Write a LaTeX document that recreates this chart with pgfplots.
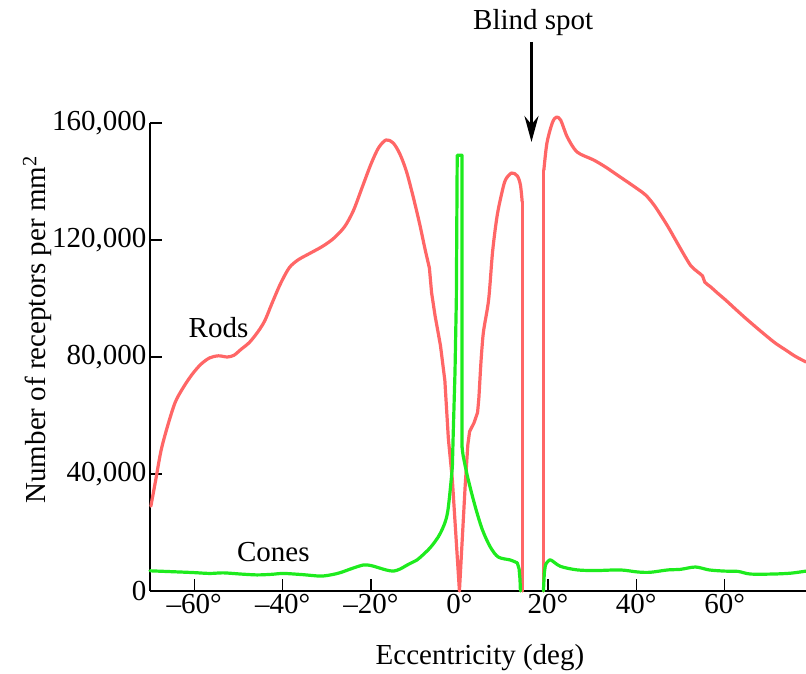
\documentclass[border=0pt]{standalone}
\usepackage{pgfplots}
\pgfplotsset{compat=1.18}
\usepackage{fontspec}
\setmainfont{Liberation Serif}
\usetikzlibrary{arrows.meta}
\definecolor{rodred}{RGB}{255,102,102}
\definecolor{conegreen}{RGB}{30,235,30}

\begin{document}
\begin{tikzpicture}[font=\fontsize{29}{34}\selectfont]
\begin{axis}[
  scale only axis, width=656pt, height=468pt,
  xmin=-70, xmax=78.4, ymin=0, ymax=160000,
  clip=false,
  axis lines=left, axis line style={-, line width=1.4pt},
  tick align=inside, major tick length=12pt,
  tick style={line width=1.4pt, black},
  xtick={-60,-40,-20,0,20,40,60},
  xticklabels={–60°,–40°,–20°,0°,20°,40°,60°},
  ytick={0,40000,80000,120000,160000},
  yticklabels={0,{40,000},{80,000},{120,000},{160,000}},
  scaled y ticks=false,
  xlabel={Eccentricity (deg)},
  ylabel={Number of receptors per mm\textsuperscript{2}},
  xlabel style={at={(axis description cs:0.503,-0.143)}, anchor=center},
  ylabel style={at={(axis description cs:-0.172,0.558)}, anchor=center},
  every axis plot/.append style={line width=3.2pt, line join=round, line cap=round},
]
% Rods
\addplot[rodred, smooth, tension=0.5] coordinates {
 (-69.8,29000)(-68.7,38000)(-67.5,48000)(-66,56500)(-64.3,64500)(-62.5,69500)
 (-60.5,74000)(-58.5,77500)(-56.5,79700)(-54.5,80400)(-52.5,80000)(-51,80600)
 (-49.5,82500)(-47.5,85000)(-45.5,88800)(-44,92500)(-42.5,98000)(-40.5,105000)
 (-38.5,110500)(-36.5,113200)(-34,115300)(-31,117800)(-28.5,120500)(-26,124500)
 (-24,130000)(-22,138000)(-20,146000)(-18.3,151500)(-16.6,154200)(-15,153200)
 (-13.5,149500)(-12,143500)(-10.5,135000)(-9,125500)(-7.8,117000)(-6.8,110500)};
\addplot[rodred] coordinates {
 (-6.8,110500)(-6.3,102000)(-5.5,94000)(-4.3,84000)(-3.3,72000)(-2.9,62000)
 (-2.5,52000)(-1.6,38000)(0,0)(1.3,36000)(1.9,50000)(2.3,54500)(3.3,57500)
 (4.1,61000)(4.4,66000)(4.8,76600)};
\addplot[rodred, smooth, tension=0.5] coordinates {
 (4.8,76600)(5.4,88200)(6.6,99500)(7.5,116000)(8.5,128000)(9.5,135500)
 (10.4,140500)(11.8,142900)(13.1,141900)(13.8,138800)(14.2,133000)};
\addplot[rodred] coordinates {(14.2,133000)(14.2,0)};
\addplot[rodred] coordinates {(19.1,0)(19.1,143900)};
\addplot[rodred, smooth, tension=0.5] coordinates {
 (19.1,143900)(19.8,153200)(21.0,160000)(21.9,162000)(22.9,161000)(24.4,155200)
 (26.6,150100)(30.3,147400)(33,145000)(36.4,141500)(39.5,138300)(42.1,135400)
 (44,132000)(45.5,128600)(47.2,124500)(48.9,120000)(50.6,115500)(52.3,111300)
 (53.8,109200)(55.0,107700)(55.5,105600)(56.8,104000)(58.5,101700)(60.2,99500)
 (62.5,96300)(64.7,93300)(67,90300)(69.2,87500)(71.5,84700)(73.8,82400)
 (76,80200)(78.4,78300)};
% Cones
\addplot[conegreen, smooth, tension=0.5] coordinates {
 (-70,6900)(-65,6600)(-60.2,6300)(-56.5,6000)(-53.4,6200)(-49.5,5800)(-45.8,5500)
 (-42.5,5700)(-39.8,6000)(-35.5,5600)(-31.4,5100)(-28.8,5600)(-26.9,6300)
 (-24.3,7700)(-21.7,8900)(-20,8700)(-18.6,8100)(-16.6,7200)(-14.9,6800)
 (-13.3,7600)(-11.8,8900)(-9.6,10600)(-8.8,11600)(-6.5,15000)(-4.3,19800)
 (-2.7,26700)(-1.6,42400)};
\addplot[conegreen] coordinates {
 (-1.6,42400)(-1.4,54000)(-1.0,75000)(-0.7,99500)(-0.5,149000)(0.6,149000)(0.6,49200)};
\addplot[conegreen, smooth, tension=0.5] coordinates {
 (0.6,49200)(0.9,45800)(2.0,38000)(3.6,28700)(5.2,20900)(7.0,15000)(8.8,11600)
 (11.5,10600)(13.1,9600)};
\addplot[conegreen] coordinates {(13.1,9600)(13.5,7500)(13.7,4000)(13.8,0)};
\addplot[conegreen] coordinates {(19.0,0)(19.2,6000)};
\addplot[conegreen, smooth, tension=0.5] coordinates {
 (19.2,6000)(19.5,9000)(20.2,10400)(20.8,10500)(22.9,8400)(26.7,7200)(31,7000)
 (36.4,7200)(40.3,6500)(43.2,6400)(47.1,7200)(50,7400)(53.4,8200)(56.5,7200)
 (60,6800)(63,6700)(65.8,5800)(71,5800)(75,6100)(78.4,6800)};

\node at (axis cs:-54.5,89900) {Rods};
\node at (axis cs:-42.1,13300) {Cones};
\node at (axis cs:16.7,194500) {Blind spot};
\draw[line width=3pt, -{Stealth[length=26pt, width=14pt]}]
  (axis cs:16.3,187700) -- (axis cs:16.3,153500);
\end{axis}
\pgfresetboundingbox
\path ([shift={(-150pt,-83pt)}]current axis.south west)
  rectangle ([shift={(0pt,123pt)}]current axis.north east);
\end{tikzpicture}
\end{document}
